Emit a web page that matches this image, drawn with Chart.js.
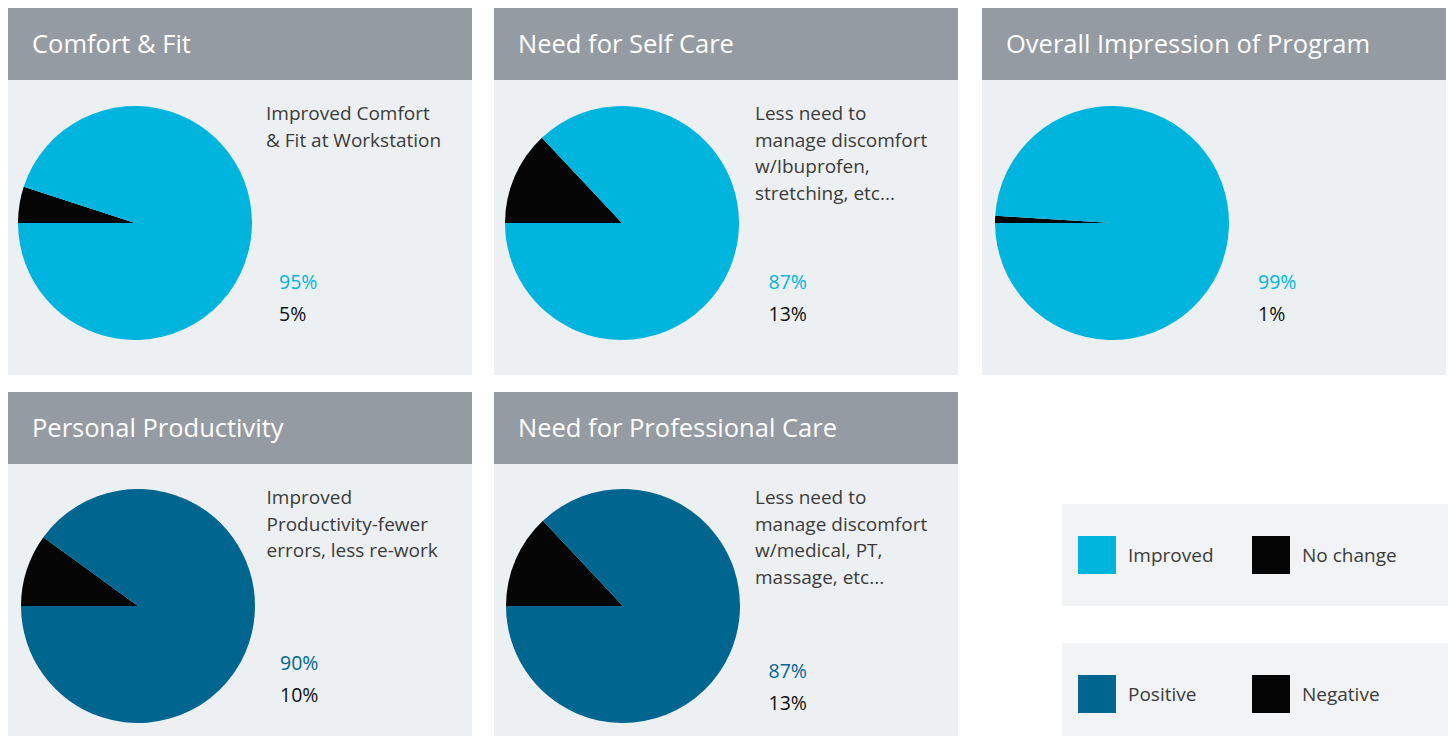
<!DOCTYPE html>
<html>
<head>
<meta charset="utf-8">
<script src="https://cdn.jsdelivr.net/npm/chart.js@4"></script>
<style>
  html, body { margin: 0; padding: 0; background: #fff; }
  body { width: 1448px; height: 736px; position: relative; overflow: hidden;
         font-family: "Open Sans", "Noto Sans", sans-serif; }
  .panel { position: absolute; width: 464px; }
  .head { height: 72px; background: #959ba2; color: #fff; font-size: 25.5px;
          line-height: 70px; padding-left: 24px; box-sizing: border-box; white-space: nowrap; }
  .body { position: absolute; left: 0; top: 72px; width: 464px; background: #edf0f3; }
  .pie { position: absolute; width: 234px; height: 234px; }
  .desc { position: absolute; font-size: 19px; line-height: 26.7px; color: #3b3b3b; white-space: pre; }
  .pct { position: absolute; font-size: 19.5px; line-height: 32px; white-space: nowrap; }
  .legend { position: absolute; left: 1062px; width: 386px; background: #f2f3f5; }
  .sw { position: absolute; width: 38px; height: 38px; }
  .lt { position: absolute; font-size: 19px; line-height: 38px; color: #3b3b3b; }
</style>
</head>
<body>
<script>
// chart data
const titles = ["Comfort & Fit", "Need for Self Care", "Overall Impression of Program",
  "Personal Productivity", "Need for Professional Care"]
const descriptions = [
  "Improved Comfort\n& Fit at Workstation",
  "Less need to\nmanage discomfort\nw/Ibuprofen,\nstretching, etc...",
  "",
  "Improved\nProductivity-fewer\nerrors, less re-work",
  "Less need to\nmanage discomfort\nw/medical, PT,\nmassage, etc..."
]
const goodValues = [95, 87, 99, 90, 87]
const badValues = [5, 13, 1, 10, 13]
const groups = [0, 0, 0, 1, 1]

const legendLabels = [["Improved", "No change"], ["Positive", "Negative"]]
const goodColors = ["#00b5dd", "#006690"]
const badColor = "#050505"

// layout of each panel (left, top, body height, pie centre, text offsets)
const layout = [
  { x: 8,   y: 8,   h: 295, cx: 127,   cy: 215, dx: 258, dy: 92,  px: 271, py: 258 },
  { x: 494, y: 8,   h: 295, cx: 127.5, cy: 215, dx: 261, dy: 92,  px: 274.5, py: 258 },
  { x: 982, y: 8,   h: 295, cx: 130,   cy: 215, dx: 261, dy: 92,  px: 276, py: 258 },
  { x: 8,   y: 392, h: 272, cx: 129.5, cy: 214, dx: 258.5, dy: 92, px: 272, py: 255 },
  { x: 494, y: 392, h: 272, cx: 128.5, cy: 214, dx: 261, dy: 92,  px: 274.5, py: 263 },
]

titles.forEach((title, i) => {
  const L = layout[i]
  const panel = document.createElement('div')
  panel.className = 'panel'
  panel.style.left = L.x + 'px'
  panel.style.top = L.y + 'px'
  panel.innerHTML = '<div class="head"></div><div class="body"></div>'
  panel.querySelector('.head').textContent = title
  const body = panel.querySelector('.body')
  body.style.height = L.h + 'px'

  const holder = document.createElement('div')
  holder.className = 'pie'
  holder.style.left = (L.cx - 117) + 'px'
  holder.style.top = (L.cy - 117) + 'px'
  const canvas = document.createElement('canvas')
  canvas.width = 234
  canvas.height = 234
  holder.appendChild(canvas)
  panel.appendChild(holder)

  if (descriptions[i]) {
    const d = document.createElement('div')
    d.className = 'desc'
    d.style.left = L.dx + 'px'
    d.style.top = L.dy + 'px'
    d.textContent = descriptions[i]
    panel.appendChild(d)
  }
  const p = document.createElement('div')
  p.className = 'pct'
  p.style.left = L.px + 'px'
  p.style.top = L.py + 'px'
  p.innerHTML = '<div style="color:' + goodColors[groups[i]] + '">' + goodValues[i] + '%</div>' +
    '<div style="color:#111">' + badValues[i] + '%</div>'
  panel.appendChild(p)
  document.body.appendChild(panel)

  // black slice first, starting at 9 o'clock and running clockwise
  new Chart(canvas.getContext('2d'), {
    type: 'pie',
    data: {
      labels: [legendLabels[groups[i]][1], legendLabels[groups[i]][0]],
      datasets: [{
        data: [badValues[i], goodValues[i]],
        backgroundColor: [badColor, goodColors[groups[i]]],
        borderWidth: 0,
      }]
    },
    options: {
      responsive: false,
      animation: false,
      rotation: 270,
      events: [],
      layout: { padding: 0 },
      plugins: { legend: { display: false }, tooltip: { enabled: false } }
    }
  })
})

// legend boxes
const legendTops = [504, 643]
legendLabels.forEach((pair, g) => {
  const box = document.createElement('div')
  box.className = 'legend'
  box.style.top = legendTops[g] + 'px'
  box.style.height = (g == 0 ? 102 : 93) + 'px'
  box.innerHTML =
    '<div class="sw" style="left:16px;top:32px;background:' + goodColors[g] + '"></div>' +
    '<div class="lt" style="left:66px;top:32px">' + pair[0] + '</div>' +
    '<div class="sw" style="left:190px;top:32px;background:' + badColor + '"></div>' +
    '<div class="lt" style="left:240px;top:32px">' + pair[1] + '</div>'
  document.body.appendChild(box)
})
</script>
</body>
</html>
